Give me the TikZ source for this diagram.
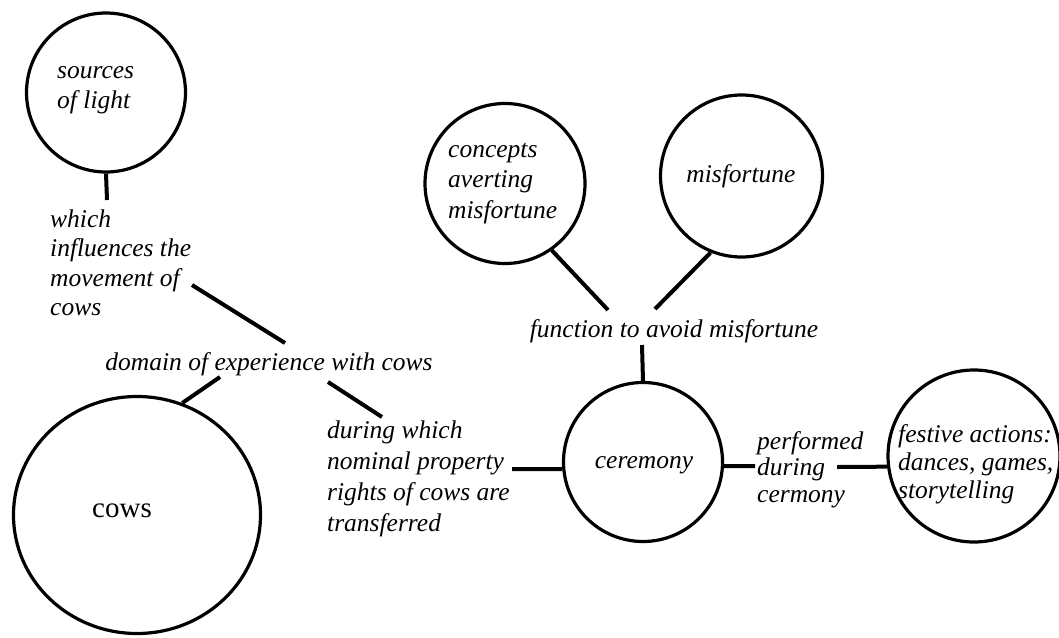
\documentclass[tikz,border=0pt]{standalone}
\usepackage{fontspec}
\setmainfont{Liberation Serif}
\usetikzlibrary{shapes.geometric}
\begin{document}
\begin{tikzpicture}[x=1pt,y=-1pt,
  concept/.style={draw, circle, line width=3.2pt, inner sep=0pt},
  bigconcept/.style={draw, ellipse, line width=3.2pt, inner sep=0pt},
  link/.style={line width=4pt},
  % multi-line labels are placed by the baseline of their last line
  lbl/.style={inner sep=0pt, align=left, anchor=base west},
  txt/.style={inner sep=0pt, anchor=base, font=\fontsize{25.5}{30}\selectfont\itshape},
  ital/.style={font=\fontsize{25.5}{#1}\selectfont\itshape}]
\useasboundingbox (0,0) rectangle (1059,637);

% concept circles
\node[concept, minimum size=159] (src) at (106,92.5) {};
\node[concept, minimum size=160] (conc) at (505,183.5) {};
\node[concept, minimum size=162] (mis) at (741.5,176) {};
\node[concept, minimum size=159] (cer) at (643,462) {};
\node[concept, minimum size=172] (fest) at (974,456) {};
\node[bigconcept, minimum width=247, minimum height=237] (cows) at (137,515) {};

% texts inside the circles
\node[lbl, ital=30] (tsrc) at (57,108) {sources\\of light};
\node[lbl, ital=30.5] (tconc) at (448,218) {concepts\\averting\\misfortune};
\node[txt] (tmis) at (741,182) {misfortune};
\node[txt] (tcer) at (644,468) {ceremony};
\node[lbl, ital=28] (tfest) at (898,498) {festive actions:\\dances, games,\\storytelling};
\node[inner sep=0pt, anchor=base, font=\fontsize{29}{34}\selectfont] (tcows) at (122,517) {cows};

% relation labels
\node[lbl, ital=29.5] (which) at (50,315.5) {which\\influences the\\movement of\\cows};
\node[txt] (domain) at (269,370) {domain of experience with cows};
\node[lbl, ital=31] (during) at (327,531) {during which\\nominal property\\rights of cows are\\transferred};
\node[txt] (func) at (674,337) {function to avoid misfortune};
\node[lbl, ital=26.5] (perf) at (757,502) {performed\\during\\cermony};

% free ends of the connectors
\coordinate (a1) at (107,200);
\coordinate (a2) at (192,285);
\coordinate (a3) at (285,343);
\coordinate (a4) at (220,377);
\coordinate (a5) at (328,382);
\coordinate (a6) at (382,417);
\coordinate (a7) at (608,310);
\coordinate (a8) at (655,309);
\coordinate (a9) at (642,345);
\coordinate (a10) at (512,469);
\coordinate (a11) at (755,466);
\coordinate (a12) at (837,467);

% connectors
\draw[link] (src.south) -- (a1);
\draw[link] (a2) -- (a3);
\draw[link] (a4) -- (cows.68);
\draw[link] (a5) -- (a6);
\draw[link] (conc.-55) -- (a7);
\draw[link] (mis.-112) -- (a8);
\draw[link] (a9) -- (cer.north);
\draw[link] (a10) -- (cer.185);
\draw[link] (cer.-3) -- (a11);
\draw[link] (a12) -- (fest.187);
\end{tikzpicture}
\end{document}
